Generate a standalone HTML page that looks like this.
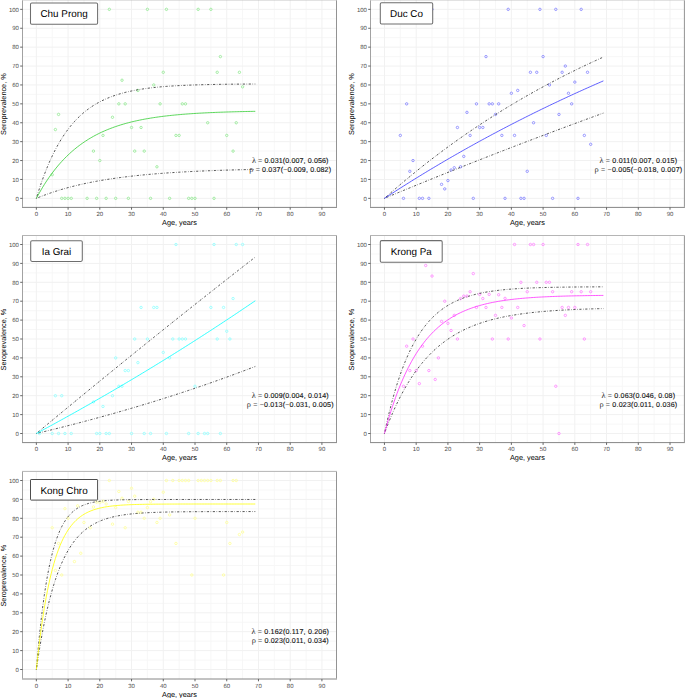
<!DOCTYPE html><html><head><meta charset="utf-8"><style>html,body{margin:0;padding:0;background:#fff;overflow:hidden}svg{display:block}text{font-family:"Liberation Sans",sans-serif;text-rendering:geometricPrecision}</style></head><body>
<svg width="685" height="698" viewBox="0 0 685 698">
<rect width="685" height="698" fill="#fff"/>
<clipPath id="c0"><rect x="22.5" y="-0.12" width="314" height="207.52"/></clipPath>
<path d="M22.5,188.9H336.5M22.5,170H336.5M22.5,151.1H336.5M22.5,132.2H336.5M22.5,113.3H336.5M22.5,94.4H336.5M22.5,75.5H336.5M22.5,56.6H336.5M22.5,37.7H336.5M22.5,18.8H336.5M52.22,-0.12V207.4M83.94,-0.12V207.4M115.68,-0.12V207.4M147.41,-0.12V207.4M179.13,-0.12V207.4M210.87,-0.12V207.4M242.59,-0.12V207.4M274.32,-0.12V207.4M306.06,-0.12V207.4" stroke="#f6f6f6" stroke-width="0.9" fill="none"/>
<path d="M22.5,198.35H336.5M22.5,179.45H336.5M22.5,160.55H336.5M22.5,141.65H336.5M22.5,122.75H336.5M22.5,103.85H336.5M22.5,84.95H336.5M22.5,66.05H336.5M22.5,47.15H336.5M22.5,28.25H336.5M22.5,9.35H336.5M36.35,-0.12V207.4M68.08,-0.12V207.4M99.81,-0.12V207.4M131.54,-0.12V207.4M163.27,-0.12V207.4M195,-0.12V207.4M226.73,-0.12V207.4M258.46,-0.12V207.4M290.19,-0.12V207.4M321.92,-0.12V207.4" stroke="#f1f1f1" stroke-width="1" fill="none"/>
<g clip-path="url(#c0)" fill="none" stroke="#90e890" stroke-width="0.8">
<circle cx="109.33" cy="9.35" r="1.2"/>
<circle cx="147.41" cy="9.35" r="1.2"/>
<circle cx="166.44" cy="9.35" r="1.2"/>
<circle cx="198.17" cy="9.35" r="1.2"/>
<circle cx="210.87" cy="9.35" r="1.2"/>
<circle cx="220.38" cy="56.6" r="1.2"/>
<circle cx="163.27" cy="72.29" r="1.2"/>
<circle cx="217.21" cy="72.29" r="1.2"/>
<circle cx="239.42" cy="72.29" r="1.2"/>
<circle cx="122.02" cy="80.22" r="1.2"/>
<circle cx="153.75" cy="84.95" r="1.2"/>
<circle cx="242.59" cy="86.84" r="1.2"/>
<circle cx="137.89" cy="90.43" r="1.2"/>
<circle cx="118.85" cy="103.85" r="1.2"/>
<circle cx="125.19" cy="103.85" r="1.2"/>
<circle cx="160.1" cy="103.85" r="1.2"/>
<circle cx="182.31" cy="103.85" r="1.2"/>
<circle cx="185.48" cy="103.85" r="1.2"/>
<circle cx="58.56" cy="114.43" r="1.2"/>
<circle cx="112.5" cy="117.27" r="1.2"/>
<circle cx="207.69" cy="122.75" r="1.2"/>
<circle cx="236.25" cy="122.75" r="1.2"/>
<circle cx="131.54" cy="127.47" r="1.2"/>
<circle cx="141.06" cy="127.47" r="1.2"/>
<circle cx="55.39" cy="129.55" r="1.2"/>
<circle cx="102.98" cy="135.41" r="1.2"/>
<circle cx="175.96" cy="135.41" r="1.2"/>
<circle cx="179.13" cy="135.41" r="1.2"/>
<circle cx="226.73" cy="135.41" r="1.2"/>
<circle cx="93.46" cy="151.1" r="1.2"/>
<circle cx="134.71" cy="151.1" r="1.2"/>
<circle cx="144.23" cy="151.1" r="1.2"/>
<circle cx="233.08" cy="151.1" r="1.2"/>
<circle cx="99.81" cy="160.55" r="1.2"/>
<circle cx="156.92" cy="166.79" r="1.2"/>
<circle cx="52.22" cy="174.72" r="1.2"/>
<circle cx="61.73" cy="198.35" r="1.2"/>
<circle cx="64.91" cy="198.35" r="1.2"/>
<circle cx="68.08" cy="198.35" r="1.2"/>
<circle cx="71.25" cy="198.35" r="1.2"/>
<circle cx="87.12" cy="198.35" r="1.2"/>
<circle cx="96.64" cy="198.35" r="1.2"/>
<circle cx="106.16" cy="198.35" r="1.2"/>
<circle cx="115.68" cy="198.35" r="1.2"/>
<circle cx="128.37" cy="198.35" r="1.2"/>
<circle cx="150.58" cy="198.35" r="1.2"/>
<circle cx="169.62" cy="198.35" r="1.2"/>
<circle cx="188.65" cy="198.35" r="1.2"/>
<circle cx="191.83" cy="198.35" r="1.2"/>
<circle cx="195" cy="198.35" r="1.2"/>
<circle cx="214.04" cy="198.35" r="1.2"/>
</g>
<g clip-path="url(#c0)" fill="none">
<path d="M36.35,198.35 L37.94,193.18 L39.52,188.24 L41.11,183.53 L42.7,179.02 L44.28,174.72 L45.87,170.62 L47.46,166.7 L49.04,162.96 L50.63,159.38 L52.22,155.97 L53.8,152.71 L55.39,149.6 L56.97,146.63 L58.56,143.79 L60.15,141.09 L61.73,138.5 L63.32,136.03 L64.91,133.67 L66.49,131.42 L68.08,129.27 L69.67,127.22 L71.25,125.26 L72.84,123.39 L74.43,121.6 L76.01,119.89 L77.6,118.26 L79.19,116.71 L80.77,115.22 L82.36,113.8 L83.94,112.45 L85.53,111.16 L87.12,109.92 L88.7,108.74 L90.29,107.62 L91.88,106.54 L93.46,105.51 L95.05,104.53 L96.64,103.6 L98.22,102.7 L99.81,101.85 L101.4,101.04 L102.98,100.26 L104.57,99.52 L106.16,98.81 L107.74,98.13 L109.33,97.48 L110.92,96.86 L112.5,96.28 L114.09,95.71 L115.68,95.17 L117.26,94.66 L118.85,94.17 L120.43,93.7 L122.02,93.26 L123.61,92.83 L125.19,92.42 L126.78,92.03 L128.37,91.66 L129.95,91.31 L131.54,90.97 L133.13,90.64 L134.71,90.34 L136.3,90.04 L137.89,89.76 L139.47,89.49 L141.06,89.23 L142.65,88.99 L144.23,88.75 L145.82,88.53 L147.41,88.32 L148.99,88.11 L150.58,87.92 L152.16,87.73 L153.75,87.56 L155.34,87.39 L156.92,87.22 L158.51,87.07 L160.1,86.92 L161.68,86.78 L163.27,86.65 L164.86,86.52 L166.44,86.4 L168.03,86.28 L169.62,86.17 L171.2,86.06 L172.79,85.96 L174.38,85.86 L175.96,85.77 L177.55,85.68 L179.13,85.6 L180.72,85.52 L182.31,85.44 L183.89,85.36 L185.48,85.29 L187.07,85.23 L188.65,85.16 L190.24,85.1 L191.83,85.04 L193.41,84.99 L195,84.93 L196.59,84.88 L198.17,84.83 L199.76,84.79 L201.35,84.74 L202.93,84.7 L204.52,84.66 L206.11,84.62 L207.69,84.58 L209.28,84.55 L210.87,84.52 L212.45,84.48 L214.04,84.45 L215.62,84.42 L217.21,84.4 L218.8,84.37 L220.38,84.34 L221.97,84.32 L223.56,84.3 L225.14,84.27 L226.73,84.25 L228.32,84.23 L229.9,84.21 L231.49,84.19 L233.08,84.18 L234.66,84.16 L236.25,84.14 L237.84,84.13 L239.42,84.11 L241.01,84.1 L242.59,84.09 L244.18,84.07 L245.77,84.06 L247.35,84.05 L248.94,84.04 L250.53,84.03 L252.11,84.02 L253.7,84.01 L255.29,84" stroke="#111" stroke-width="0.72" stroke-dasharray="0.55 1.6 2.2 1.6"/>
<path d="M36.35,198.35 L37.94,197.7 L39.52,197.06 L41.11,196.43 L42.7,195.82 L44.28,195.22 L45.87,194.63 L47.46,194.05 L49.04,193.49 L50.63,192.94 L52.22,192.4 L53.8,191.88 L55.39,191.36 L56.97,190.86 L58.56,190.36 L60.15,189.88 L61.73,189.41 L63.32,188.95 L64.91,188.49 L66.49,188.05 L68.08,187.62 L69.67,187.19 L71.25,186.78 L72.84,186.37 L74.43,185.97 L76.01,185.59 L77.6,185.21 L79.19,184.83 L80.77,184.47 L82.36,184.11 L83.94,183.76 L85.53,183.42 L87.12,183.09 L88.7,182.76 L90.29,182.44 L91.88,182.13 L93.46,181.82 L95.05,181.52 L96.64,181.23 L98.22,180.94 L99.81,180.66 L101.4,180.39 L102.98,180.12 L104.57,179.86 L106.16,179.6 L107.74,179.35 L109.33,179.1 L110.92,178.86 L112.5,178.62 L114.09,178.39 L115.68,178.17 L117.26,177.95 L118.85,177.73 L120.43,177.52 L122.02,177.31 L123.61,177.11 L125.19,176.91 L126.78,176.72 L128.37,176.53 L129.95,176.34 L131.54,176.16 L133.13,175.98 L134.71,175.81 L136.3,175.63 L137.89,175.47 L139.47,175.3 L141.06,175.15 L142.65,174.99 L144.23,174.84 L145.82,174.69 L147.41,174.54 L148.99,174.4 L150.58,174.26 L152.16,174.12 L153.75,173.99 L155.34,173.85 L156.92,173.73 L158.51,173.6 L160.1,173.48 L161.68,173.36 L163.27,173.24 L164.86,173.12 L166.44,173.01 L168.03,172.9 L169.62,172.79 L171.2,172.69 L172.79,172.58 L174.38,172.48 L175.96,172.38 L177.55,172.29 L179.13,172.19 L180.72,172.1 L182.31,172.01 L183.89,171.92 L185.48,171.83 L187.07,171.75 L188.65,171.66 L190.24,171.58 L191.83,171.5 L193.41,171.42 L195,171.35 L196.59,171.27 L198.17,171.2 L199.76,171.13 L201.35,171.06 L202.93,170.99 L204.52,170.92 L206.11,170.86 L207.69,170.79 L209.28,170.73 L210.87,170.67 L212.45,170.61 L214.04,170.55 L215.62,170.49 L217.21,170.43 L218.8,170.38 L220.38,170.33 L221.97,170.27 L223.56,170.22 L225.14,170.17 L226.73,170.12 L228.32,170.07 L229.9,170.03 L231.49,169.98 L233.08,169.93 L234.66,169.89 L236.25,169.85 L237.84,169.8 L239.42,169.76 L241.01,169.72 L242.59,169.68 L244.18,169.64 L245.77,169.6 L247.35,169.57 L248.94,169.53 L250.53,169.49 L252.11,169.46 L253.7,169.43 L255.29,169.39" stroke="#111" stroke-width="0.72" stroke-dasharray="0.55 1.6 2.2 1.6"/>
<path d="M36.35,198.35 L37.94,195.41 L39.52,192.58 L41.11,189.83 L42.7,187.18 L44.28,184.62 L45.87,182.14 L47.46,179.75 L49.04,177.43 L50.63,175.2 L52.22,173.03 L53.8,170.95 L55.39,168.93 L56.97,166.97 L58.56,165.09 L60.15,163.26 L61.73,161.5 L63.32,159.79 L64.91,158.15 L66.49,156.56 L68.08,155.02 L69.67,153.53 L71.25,152.09 L72.84,150.7 L74.43,149.36 L76.01,148.06 L77.6,146.81 L79.19,145.59 L80.77,144.42 L82.36,143.29 L83.94,142.19 L85.53,141.13 L87.12,140.11 L88.7,139.12 L90.29,138.16 L91.88,137.24 L93.46,136.35 L95.05,135.48 L96.64,134.65 L98.22,133.84 L99.81,133.06 L101.4,132.31 L102.98,131.58 L104.57,130.88 L106.16,130.2 L107.74,129.54 L109.33,128.9 L110.92,128.29 L112.5,127.69 L114.09,127.12 L115.68,126.57 L117.26,126.03 L118.85,125.51 L120.43,125.01 L122.02,124.53 L123.61,124.06 L125.19,123.6 L126.78,123.17 L128.37,122.74 L129.95,122.34 L131.54,121.94 L133.13,121.56 L134.71,121.19 L136.3,120.83 L137.89,120.49 L139.47,120.16 L141.06,119.83 L142.65,119.52 L144.23,119.22 L145.82,118.93 L147.41,118.65 L148.99,118.38 L150.58,118.11 L152.16,117.86 L153.75,117.62 L155.34,117.38 L156.92,117.15 L158.51,116.93 L160.1,116.71 L161.68,116.51 L163.27,116.31 L164.86,116.11 L166.44,115.93 L168.03,115.75 L169.62,115.57 L171.2,115.4 L172.79,115.24 L174.38,115.08 L175.96,114.93 L177.55,114.78 L179.13,114.64 L180.72,114.5 L182.31,114.37 L183.89,114.24 L185.48,114.12 L187.07,113.99 L188.65,113.88 L190.24,113.77 L191.83,113.66 L193.41,113.55 L195,113.45 L196.59,113.35 L198.17,113.26 L199.76,113.17 L201.35,113.08 L202.93,112.99 L204.52,112.91 L206.11,112.83 L207.69,112.75 L209.28,112.68 L210.87,112.61 L212.45,112.54 L214.04,112.47 L215.62,112.4 L217.21,112.34 L218.8,112.28 L220.38,112.22 L221.97,112.17 L223.56,112.11 L225.14,112.06 L226.73,112.01 L228.32,111.96 L229.9,111.91 L231.49,111.86 L233.08,111.82 L234.66,111.77 L236.25,111.73 L237.84,111.69 L239.42,111.65 L241.01,111.61 L242.59,111.58 L244.18,111.54 L245.77,111.51 L247.35,111.48 L248.94,111.44 L250.53,111.41 L252.11,111.38 L253.7,111.35 L255.29,111.33" stroke="#32cd32" stroke-width="0.8"/>
</g>
<path d="M22,-0.12H337" stroke="#b5b5b5" stroke-width="1" fill="none"/>
<path d="M22.5,0.38V206.9" stroke="#a2a2a2" stroke-width="1" fill="none"/>
<path d="M336.5,0.38V206.9" stroke="#939393" stroke-width="1" fill="none"/>
<path d="M22,207.4H337" stroke="#868686" stroke-width="1" fill="none"/>
<path d="M20.2,198.35H22.5M20.2,179.45H22.5M20.2,160.55H22.5M20.2,141.65H22.5M20.2,122.75H22.5M20.2,103.85H22.5M20.2,84.95H22.5M20.2,66.05H22.5M20.2,47.15H22.5M20.2,28.25H22.5M20.2,9.35H22.5M36.35,207.4V209.7M68.08,207.4V209.7M99.81,207.4V209.7M131.54,207.4V209.7M163.27,207.4V209.7M195,207.4V209.7M226.73,207.4V209.7M258.46,207.4V209.7M290.19,207.4V209.7M321.92,207.4V209.7" stroke="#555" stroke-width="0.9" fill="none"/>
<g font-size="6.0" fill="#4d4d4d">
<text x="18.9" y="200.55" text-anchor="end">0</text>
<text x="18.9" y="181.65" text-anchor="end">10</text>
<text x="18.9" y="162.75" text-anchor="end">20</text>
<text x="18.9" y="143.85" text-anchor="end">30</text>
<text x="18.9" y="124.95" text-anchor="end">40</text>
<text x="18.9" y="106.05" text-anchor="end">50</text>
<text x="18.9" y="87.15" text-anchor="end">60</text>
<text x="18.9" y="68.25" text-anchor="end">70</text>
<text x="18.9" y="49.35" text-anchor="end">80</text>
<text x="18.9" y="30.45" text-anchor="end">90</text>
<text x="18.9" y="11.55" text-anchor="end">100</text>
<text x="36.35" y="216" text-anchor="middle">0</text>
<text x="68.08" y="216" text-anchor="middle">10</text>
<text x="99.81" y="216" text-anchor="middle">20</text>
<text x="131.54" y="216" text-anchor="middle">30</text>
<text x="163.27" y="216" text-anchor="middle">40</text>
<text x="195" y="216" text-anchor="middle">50</text>
<text x="226.73" y="216" text-anchor="middle">60</text>
<text x="258.46" y="216" text-anchor="middle">70</text>
<text x="290.19" y="216" text-anchor="middle">80</text>
<text x="321.92" y="216" text-anchor="middle">90</text>
</g>
<text x="179.5" y="225.2" font-size="7.3" fill="#000" text-anchor="middle">Age, years</text>
<text transform="translate(5.8,104.14) rotate(-90)" font-size="7.3" fill="#000" text-anchor="middle">Seroprevalence, %</text>
<rect x="30.5" y="2.9" width="67.1" height="21.3" rx="1.3" fill="#fff" stroke="#6e6e6e" stroke-width="1.05"/>
<text x="64.05" y="17.25" font-size="9.9" fill="#000" text-anchor="middle">Chu Prong</text>
<text x="290.19" y="162.85" font-size="7.1" fill="#111" stroke="#111" stroke-width="0.12" text-anchor="middle" textLength="76.6" lengthAdjust="spacing"><tspan font-family="Liberation Serif" font-size="8.3" fill="#333" stroke="none">λ</tspan> <tspan fill="#555" stroke="none">=</tspan> 0.031(0.007, 0.056)</text>
<text x="290.19" y="171.95" font-size="7.1" fill="#111" stroke="#111" stroke-width="0.12" text-anchor="middle" textLength="81.8" lengthAdjust="spacing"><tspan font-family="Liberation Serif" font-size="8.3" fill="#333" stroke="none">ρ</tspan> <tspan fill="#555" stroke="none">=</tspan> 0.037(<tspan fill="#555" stroke="none">−</tspan>0.009, 0.082)</text>
<clipPath id="c1"><rect x="370.5" y="-0.12" width="313.9" height="207.52"/></clipPath>
<path d="M370.5,188.9H684.4M370.5,170H684.4M370.5,151.1H684.4M370.5,132.2H684.4M370.5,113.3H684.4M370.5,94.4H684.4M370.5,75.5H684.4M370.5,56.6H684.4M370.5,37.7H684.4M370.5,18.8H684.4M400.31,-0.12V207.4M432.04,-0.12V207.4M463.77,-0.12V207.4M495.5,-0.12V207.4M527.24,-0.12V207.4M558.97,-0.12V207.4M590.69,-0.12V207.4M622.42,-0.12V207.4M654.15,-0.12V207.4" stroke="#f6f6f6" stroke-width="0.9" fill="none"/>
<path d="M370.5,198.35H684.4M370.5,179.45H684.4M370.5,160.55H684.4M370.5,141.65H684.4M370.5,122.75H684.4M370.5,103.85H684.4M370.5,84.95H684.4M370.5,66.05H684.4M370.5,47.15H684.4M370.5,28.25H684.4M370.5,9.35H684.4M384.45,-0.12V207.4M416.18,-0.12V207.4M447.91,-0.12V207.4M479.64,-0.12V207.4M511.37,-0.12V207.4M543.1,-0.12V207.4M574.83,-0.12V207.4M606.56,-0.12V207.4M638.29,-0.12V207.4M670.02,-0.12V207.4" stroke="#f1f1f1" stroke-width="1" fill="none"/>
<g clip-path="url(#c1)" fill="none" stroke="#8080ff" stroke-width="0.8">
<circle cx="432.04" cy="9.35" r="1.2"/>
<circle cx="508.2" cy="9.35" r="1.2"/>
<circle cx="539.93" cy="9.35" r="1.2"/>
<circle cx="555.79" cy="9.35" r="1.2"/>
<circle cx="581.18" cy="9.35" r="1.2"/>
<circle cx="485.99" cy="56.6" r="1.2"/>
<circle cx="543.1" cy="56.6" r="1.2"/>
<circle cx="565.31" cy="66.05" r="1.2"/>
<circle cx="530.41" cy="72.29" r="1.2"/>
<circle cx="536.75" cy="72.29" r="1.2"/>
<circle cx="562.14" cy="72.29" r="1.2"/>
<circle cx="587.52" cy="72.29" r="1.2"/>
<circle cx="574.83" cy="82.11" r="1.2"/>
<circle cx="549.45" cy="84.95" r="1.2"/>
<circle cx="517.72" cy="90.43" r="1.2"/>
<circle cx="511.37" cy="93.27" r="1.2"/>
<circle cx="568.48" cy="93.27" r="1.2"/>
<circle cx="406.66" cy="103.85" r="1.2"/>
<circle cx="476.47" cy="103.85" r="1.2"/>
<circle cx="489.16" cy="103.85" r="1.2"/>
<circle cx="492.33" cy="103.85" r="1.2"/>
<circle cx="498.68" cy="103.85" r="1.2"/>
<circle cx="571.66" cy="103.85" r="1.2"/>
<circle cx="466.95" cy="112.36" r="1.2"/>
<circle cx="495.5" cy="114.43" r="1.2"/>
<circle cx="558.97" cy="114.43" r="1.2"/>
<circle cx="533.58" cy="122.75" r="1.2"/>
<circle cx="457.43" cy="127.47" r="1.2"/>
<circle cx="479.64" cy="127.47" r="1.2"/>
<circle cx="482.81" cy="127.47" r="1.2"/>
<circle cx="400.31" cy="135.41" r="1.2"/>
<circle cx="470.12" cy="135.41" r="1.2"/>
<circle cx="501.85" cy="135.41" r="1.2"/>
<circle cx="514.54" cy="135.41" r="1.2"/>
<circle cx="546.27" cy="135.41" r="1.2"/>
<circle cx="584.35" cy="135.41" r="1.2"/>
<circle cx="590.69" cy="144.3" r="1.2"/>
<circle cx="463.77" cy="156.39" r="1.2"/>
<circle cx="413.01" cy="160.55" r="1.2"/>
<circle cx="460.6" cy="166.79" r="1.2"/>
<circle cx="454.26" cy="167.73" r="1.2"/>
<circle cx="451.08" cy="170" r="1.2"/>
<circle cx="409.83" cy="171.32" r="1.2"/>
<circle cx="527.24" cy="171.32" r="1.2"/>
<circle cx="447.91" cy="180.58" r="1.2"/>
<circle cx="441.56" cy="184.36" r="1.2"/>
<circle cx="444.74" cy="188.9" r="1.2"/>
<circle cx="403.49" cy="198.35" r="1.2"/>
<circle cx="419.35" cy="198.35" r="1.2"/>
<circle cx="422.53" cy="198.35" r="1.2"/>
<circle cx="428.87" cy="198.35" r="1.2"/>
<circle cx="473.29" cy="198.35" r="1.2"/>
<circle cx="505.02" cy="198.35" r="1.2"/>
<circle cx="520.89" cy="198.35" r="1.2"/>
<circle cx="524.06" cy="198.35" r="1.2"/>
<circle cx="552.62" cy="198.35" r="1.2"/>
<circle cx="578" cy="198.35" r="1.2"/>
</g>
<g clip-path="url(#c1)" fill="none">
<path d="M384.45,198.35 L386.04,196.94 L387.62,195.53 L389.21,194.13 L390.8,192.74 L392.38,191.35 L393.97,189.97 L395.56,188.6 L397.14,187.23 L398.73,185.88 L400.31,184.52 L401.9,183.18 L403.49,181.84 L405.07,180.51 L406.66,179.18 L408.25,177.87 L409.83,176.55 L411.42,175.25 L413.01,173.95 L414.59,172.66 L416.18,171.37 L417.77,170.09 L419.35,168.82 L420.94,167.55 L422.53,166.29 L424.11,165.04 L425.7,163.79 L427.29,162.55 L428.87,161.31 L430.46,160.08 L432.04,158.86 L433.63,157.64 L435.22,156.43 L436.8,155.23 L438.39,154.03 L439.98,152.84 L441.56,151.65 L443.15,150.47 L444.74,149.29 L446.32,148.12 L447.91,146.96 L449.5,145.8 L451.08,144.65 L452.67,143.5 L454.26,142.36 L455.84,141.23 L457.43,140.1 L459.02,138.98 L460.6,137.86 L462.19,136.75 L463.77,135.64 L465.36,134.54 L466.95,133.44 L468.53,132.35 L470.12,131.27 L471.71,130.19 L473.29,129.11 L474.88,128.05 L476.47,126.98 L478.05,125.92 L479.64,124.87 L481.23,123.82 L482.81,122.78 L484.4,121.75 L485.99,120.71 L487.57,119.69 L489.16,118.66 L490.75,117.65 L492.33,116.64 L493.92,115.63 L495.5,114.63 L497.09,113.63 L498.68,112.64 L500.26,111.65 L501.85,110.67 L503.44,109.7 L505.02,108.72 L506.61,107.76 L508.2,106.8 L509.78,105.84 L511.37,104.89 L512.96,103.94 L514.54,102.99 L516.13,102.06 L517.72,101.12 L519.3,100.19 L520.89,99.27 L522.48,98.35 L524.06,97.43 L525.65,96.52 L527.24,95.62 L528.82,94.72 L530.41,93.82 L531.99,92.93 L533.58,92.04 L535.17,91.15 L536.75,90.28 L538.34,89.4 L539.93,88.53 L541.51,87.66 L543.1,86.8 L544.69,85.94 L546.27,85.09 L547.86,84.24 L549.45,83.4 L551.03,82.56 L552.62,81.72 L554.21,80.89 L555.79,80.06 L557.38,79.24 L558.97,78.42 L560.55,77.6 L562.14,76.79 L563.72,75.98 L565.31,75.18 L566.9,74.38 L568.48,73.58 L570.07,72.79 L571.66,72 L573.24,71.22 L574.83,70.44 L576.42,69.66 L578,68.89 L579.59,68.12 L581.18,67.36 L582.76,66.6 L584.35,65.84 L585.94,65.09 L587.52,64.34 L589.11,63.59 L590.69,62.85 L592.28,62.11 L593.87,61.38 L595.45,60.65 L597.04,59.92 L598.63,59.2 L600.21,58.48 L601.8,57.76 L603.39,57.05" stroke="#111" stroke-width="0.72" stroke-dasharray="0.55 1.6 2.2 1.6"/>
<path d="M384.45,198.35 L386.04,197.69 L387.62,197.03 L389.21,196.37 L390.8,195.71 L392.38,195.05 L393.97,194.39 L395.56,193.74 L397.14,193.08 L398.73,192.42 L400.31,191.77 L401.9,191.11 L403.49,190.46 L405.07,189.81 L406.66,189.15 L408.25,188.5 L409.83,187.85 L411.42,187.2 L413.01,186.55 L414.59,185.9 L416.18,185.25 L417.77,184.6 L419.35,183.96 L420.94,183.31 L422.53,182.66 L424.11,182.02 L425.7,181.37 L427.29,180.73 L428.87,180.08 L430.46,179.44 L432.04,178.8 L433.63,178.16 L435.22,177.52 L436.8,176.88 L438.39,176.24 L439.98,175.6 L441.56,174.96 L443.15,174.32 L444.74,173.68 L446.32,173.05 L447.91,172.41 L449.5,171.78 L451.08,171.14 L452.67,170.51 L454.26,169.88 L455.84,169.24 L457.43,168.61 L459.02,167.98 L460.6,167.35 L462.19,166.72 L463.77,166.09 L465.36,165.46 L466.95,164.83 L468.53,164.2 L470.12,163.58 L471.71,162.95 L473.29,162.32 L474.88,161.7 L476.47,161.07 L478.05,160.45 L479.64,159.83 L481.23,159.2 L482.81,158.58 L484.4,157.96 L485.99,157.34 L487.57,156.72 L489.16,156.1 L490.75,155.48 L492.33,154.86 L493.92,154.25 L495.5,153.63 L497.09,153.01 L498.68,152.4 L500.26,151.78 L501.85,151.17 L503.44,150.55 L505.02,149.94 L506.61,149.33 L508.2,148.71 L509.78,148.1 L511.37,147.49 L512.96,146.88 L514.54,146.27 L516.13,145.66 L517.72,145.05 L519.3,144.45 L520.89,143.84 L522.48,143.23 L524.06,142.63 L525.65,142.02 L527.24,141.42 L528.82,140.81 L530.41,140.21 L531.99,139.6 L533.58,139 L535.17,138.4 L536.75,137.8 L538.34,137.2 L539.93,136.6 L541.51,136 L543.1,135.4 L544.69,134.8 L546.27,134.2 L547.86,133.61 L549.45,133.01 L551.03,132.41 L552.62,131.82 L554.21,131.22 L555.79,130.63 L557.38,130.04 L558.97,129.44 L560.55,128.85 L562.14,128.26 L563.72,127.67 L565.31,127.08 L566.9,126.49 L568.48,125.9 L570.07,125.31 L571.66,124.72 L573.24,124.13 L574.83,123.55 L576.42,122.96 L578,122.38 L579.59,121.79 L581.18,121.21 L582.76,120.62 L584.35,120.04 L585.94,119.46 L587.52,118.87 L589.11,118.29 L590.69,117.71 L592.28,117.13 L593.87,116.55 L595.45,115.97 L597.04,115.39 L598.63,114.81 L600.21,114.24 L601.8,113.66 L603.39,113.08" stroke="#111" stroke-width="0.72" stroke-dasharray="0.55 1.6 2.2 1.6"/>
<path d="M384.45,198.35 L386.04,197.31 L387.62,196.28 L389.21,195.25 L390.8,194.22 L392.38,193.19 L393.97,192.17 L395.56,191.15 L397.14,190.13 L398.73,189.12 L400.31,188.11 L401.9,187.1 L403.49,186.1 L405.07,185.1 L406.66,184.1 L408.25,183.1 L409.83,182.11 L411.42,181.12 L413.01,180.14 L414.59,179.15 L416.18,178.17 L417.77,177.19 L419.35,176.22 L420.94,175.25 L422.53,174.28 L424.11,173.31 L425.7,172.35 L427.29,171.39 L428.87,170.43 L430.46,169.48 L432.04,168.53 L433.63,167.58 L435.22,166.63 L436.8,165.69 L438.39,164.75 L439.98,163.81 L441.56,162.88 L443.15,161.95 L444.74,161.02 L446.32,160.09 L447.91,159.17 L449.5,158.25 L451.08,157.33 L452.67,156.41 L454.26,155.5 L455.84,154.59 L457.43,153.69 L459.02,152.78 L460.6,151.88 L462.19,150.98 L463.77,150.09 L465.36,149.19 L466.95,148.3 L468.53,147.41 L470.12,146.53 L471.71,145.65 L473.29,144.77 L474.88,143.89 L476.47,143.01 L478.05,142.14 L479.64,141.27 L481.23,140.4 L482.81,139.54 L484.4,138.68 L485.99,137.82 L487.57,136.96 L489.16,136.11 L490.75,135.26 L492.33,134.41 L493.92,133.56 L495.5,132.72 L497.09,131.88 L498.68,131.04 L500.26,130.2 L501.85,129.37 L503.44,128.54 L505.02,127.71 L506.61,126.88 L508.2,126.06 L509.78,125.24 L511.37,124.42 L512.96,123.6 L514.54,122.79 L516.13,121.97 L517.72,121.17 L519.3,120.36 L520.89,119.55 L522.48,118.75 L524.06,117.95 L525.65,117.16 L527.24,116.36 L528.82,115.57 L530.41,114.78 L531.99,113.99 L533.58,113.21 L535.17,112.42 L536.75,111.64 L538.34,110.86 L539.93,110.09 L541.51,109.31 L543.1,108.54 L544.69,107.77 L546.27,107.01 L547.86,106.24 L549.45,105.48 L551.03,104.72 L552.62,103.96 L554.21,103.21 L555.79,102.46 L557.38,101.71 L558.97,100.96 L560.55,100.21 L562.14,99.47 L563.72,98.73 L565.31,97.99 L566.9,97.25 L568.48,96.51 L570.07,95.78 L571.66,95.05 L573.24,94.32 L574.83,93.59 L576.42,92.87 L578,92.15 L579.59,91.43 L581.18,90.71 L582.76,90 L584.35,89.28 L585.94,88.57 L587.52,87.86 L589.11,87.16 L590.69,86.45 L592.28,85.75 L593.87,85.05 L595.45,84.35 L597.04,83.65 L598.63,82.96 L600.21,82.27 L601.8,81.57 L603.39,80.89" stroke="#3535ff" stroke-width="0.8"/>
</g>
<path d="M370,-0.12H684.9" stroke="#b5b5b5" stroke-width="1" fill="none"/>
<path d="M370.5,0.38V206.9" stroke="#a2a2a2" stroke-width="1" fill="none"/>
<path d="M684.4,0.38V206.9" stroke="#939393" stroke-width="1" fill="none"/>
<path d="M370,207.4H684.9" stroke="#868686" stroke-width="1" fill="none"/>
<path d="M368.2,198.35H370.5M368.2,179.45H370.5M368.2,160.55H370.5M368.2,141.65H370.5M368.2,122.75H370.5M368.2,103.85H370.5M368.2,84.95H370.5M368.2,66.05H370.5M368.2,47.15H370.5M368.2,28.25H370.5M368.2,9.35H370.5M384.45,207.4V209.7M416.18,207.4V209.7M447.91,207.4V209.7M479.64,207.4V209.7M511.37,207.4V209.7M543.1,207.4V209.7M574.83,207.4V209.7M606.56,207.4V209.7M638.29,207.4V209.7M670.02,207.4V209.7" stroke="#555" stroke-width="0.9" fill="none"/>
<g font-size="6.0" fill="#4d4d4d">
<text x="366.9" y="200.55" text-anchor="end">0</text>
<text x="366.9" y="181.65" text-anchor="end">10</text>
<text x="366.9" y="162.75" text-anchor="end">20</text>
<text x="366.9" y="143.85" text-anchor="end">30</text>
<text x="366.9" y="124.95" text-anchor="end">40</text>
<text x="366.9" y="106.05" text-anchor="end">50</text>
<text x="366.9" y="87.15" text-anchor="end">60</text>
<text x="366.9" y="68.25" text-anchor="end">70</text>
<text x="366.9" y="49.35" text-anchor="end">80</text>
<text x="366.9" y="30.45" text-anchor="end">90</text>
<text x="366.9" y="11.55" text-anchor="end">100</text>
<text x="384.45" y="216" text-anchor="middle">0</text>
<text x="416.18" y="216" text-anchor="middle">10</text>
<text x="447.91" y="216" text-anchor="middle">20</text>
<text x="479.64" y="216" text-anchor="middle">30</text>
<text x="511.37" y="216" text-anchor="middle">40</text>
<text x="543.1" y="216" text-anchor="middle">50</text>
<text x="574.83" y="216" text-anchor="middle">60</text>
<text x="606.56" y="216" text-anchor="middle">70</text>
<text x="638.29" y="216" text-anchor="middle">80</text>
<text x="670.02" y="216" text-anchor="middle">90</text>
</g>
<text x="527.45" y="225.2" font-size="7.3" fill="#000" text-anchor="middle">Age, years</text>
<text transform="translate(353.8,104.14) rotate(-90)" font-size="7.3" fill="#000" text-anchor="middle">Seroprevalence, %</text>
<rect x="380.3" y="2.8" width="52.4" height="21.3" rx="1.3" fill="#fff" stroke="#6e6e6e" stroke-width="1.05"/>
<text x="406.5" y="17.15" font-size="9.9" fill="#000" text-anchor="middle">Duc Co</text>
<text x="638.29" y="162.85" font-size="7.1" fill="#111" stroke="#111" stroke-width="0.12" text-anchor="middle" textLength="77.6" lengthAdjust="spacing"><tspan font-family="Liberation Serif" font-size="8.3" fill="#333" stroke="none">λ</tspan> <tspan fill="#555" stroke="none">=</tspan> 0.011(0.007, 0.015)</text>
<text x="638.29" y="171.95" font-size="7.1" fill="#111" stroke="#111" stroke-width="0.12" text-anchor="middle" textLength="87.8" lengthAdjust="spacing"><tspan font-family="Liberation Serif" font-size="8.3" fill="#333" stroke="none">ρ</tspan> <tspan fill="#555" stroke="none">=</tspan> <tspan fill="#555" stroke="none">−</tspan>0.005(<tspan fill="#555" stroke="none">−</tspan>0.018, 0.007)</text>
<clipPath id="c2"><rect x="22.5" y="235.5" width="314" height="207.1"/></clipPath>
<path d="M22.5,424.05H336.5M22.5,405.15H336.5M22.5,386.25H336.5M22.5,367.35H336.5M22.5,348.45H336.5M22.5,329.55H336.5M22.5,310.65H336.5M22.5,291.75H336.5M22.5,272.85H336.5M22.5,253.95H336.5M52.22,235.5V442.6M83.94,235.5V442.6M115.68,235.5V442.6M147.41,235.5V442.6M179.13,235.5V442.6M210.87,235.5V442.6M242.59,235.5V442.6M274.32,235.5V442.6M306.06,235.5V442.6" stroke="#f6f6f6" stroke-width="0.9" fill="none"/>
<path d="M22.5,433.5H336.5M22.5,414.6H336.5M22.5,395.7H336.5M22.5,376.8H336.5M22.5,357.9H336.5M22.5,339H336.5M22.5,320.1H336.5M22.5,301.2H336.5M22.5,282.3H336.5M22.5,263.4H336.5M22.5,244.5H336.5M36.35,235.5V442.6M68.08,235.5V442.6M99.81,235.5V442.6M131.54,235.5V442.6M163.27,235.5V442.6M195,235.5V442.6M226.73,235.5V442.6M258.46,235.5V442.6M290.19,235.5V442.6M321.92,235.5V442.6" stroke="#f1f1f1" stroke-width="1" fill="none"/>
<g clip-path="url(#c2)" fill="none" stroke="#8cffff" stroke-width="0.8">
<circle cx="175.96" cy="244.5" r="1.2"/>
<circle cx="214.04" cy="244.5" r="1.2"/>
<circle cx="236.25" cy="244.5" r="1.2"/>
<circle cx="242.59" cy="244.5" r="1.2"/>
<circle cx="233.08" cy="298.55" r="1.2"/>
<circle cx="141.06" cy="307.44" r="1.2"/>
<circle cx="153.75" cy="307.44" r="1.2"/>
<circle cx="156.92" cy="307.44" r="1.2"/>
<circle cx="210.87" cy="307.44" r="1.2"/>
<circle cx="223.56" cy="307.44" r="1.2"/>
<circle cx="226.73" cy="331.25" r="1.2"/>
<circle cx="134.71" cy="339" r="1.2"/>
<circle cx="147.41" cy="339" r="1.2"/>
<circle cx="172.79" cy="339" r="1.2"/>
<circle cx="179.13" cy="339" r="1.2"/>
<circle cx="182.31" cy="339" r="1.2"/>
<circle cx="185.48" cy="339" r="1.2"/>
<circle cx="217.21" cy="339" r="1.2"/>
<circle cx="229.9" cy="339" r="1.2"/>
<circle cx="163.27" cy="352.42" r="1.2"/>
<circle cx="115.68" cy="357.9" r="1.2"/>
<circle cx="169.62" cy="357.9" r="1.2"/>
<circle cx="137.89" cy="362.62" r="1.2"/>
<circle cx="125.19" cy="370.56" r="1.2"/>
<circle cx="128.37" cy="370.56" r="1.2"/>
<circle cx="118.85" cy="386.25" r="1.2"/>
<circle cx="122.02" cy="386.25" r="1.2"/>
<circle cx="195" cy="386.25" r="1.2"/>
<circle cx="55.39" cy="395.7" r="1.2"/>
<circle cx="61.73" cy="395.7" r="1.2"/>
<circle cx="112.5" cy="395.7" r="1.2"/>
<circle cx="93.46" cy="401.94" r="1.2"/>
<circle cx="102.98" cy="406.47" r="1.2"/>
<circle cx="39.52" cy="433.5" r="1.2"/>
<circle cx="52.22" cy="433.5" r="1.2"/>
<circle cx="58.56" cy="433.5" r="1.2"/>
<circle cx="64.91" cy="433.5" r="1.2"/>
<circle cx="71.25" cy="433.5" r="1.2"/>
<circle cx="96.64" cy="433.5" r="1.2"/>
<circle cx="99.81" cy="433.5" r="1.2"/>
<circle cx="106.16" cy="433.5" r="1.2"/>
<circle cx="109.33" cy="433.5" r="1.2"/>
<circle cx="131.54" cy="433.5" r="1.2"/>
<circle cx="144.23" cy="433.5" r="1.2"/>
<circle cx="150.58" cy="433.5" r="1.2"/>
<circle cx="166.44" cy="433.5" r="1.2"/>
<circle cx="188.65" cy="433.5" r="1.2"/>
<circle cx="198.17" cy="433.5" r="1.2"/>
<circle cx="204.52" cy="433.5" r="1.2"/>
<circle cx="207.69" cy="433.5" r="1.2"/>
<circle cx="220.38" cy="433.5" r="1.2"/>
</g>
<g clip-path="url(#c2)" fill="none">
<path d="M36.35,433.5 L37.94,432.18 L39.52,430.86 L41.11,429.53 L42.7,428.21 L44.28,426.89 L45.87,425.57 L47.46,424.26 L49.04,422.94 L50.63,421.62 L52.22,420.3 L53.8,418.99 L55.39,417.67 L56.97,416.36 L58.56,415.04 L60.15,413.73 L61.73,412.42 L63.32,411.1 L64.91,409.79 L66.49,408.48 L68.08,407.17 L69.67,405.86 L71.25,404.55 L72.84,403.25 L74.43,401.94 L76.01,400.63 L77.6,399.32 L79.19,398.02 L80.77,396.71 L82.36,395.41 L83.94,394.11 L85.53,392.8 L87.12,391.5 L88.7,390.2 L90.29,388.9 L91.88,387.6 L93.46,386.3 L95.05,385 L96.64,383.7 L98.22,382.4 L99.81,381.11 L101.4,379.81 L102.98,378.51 L104.57,377.22 L106.16,375.92 L107.74,374.63 L109.33,373.34 L110.92,372.04 L112.5,370.75 L114.09,369.46 L115.68,368.17 L117.26,366.88 L118.85,365.59 L120.43,364.3 L122.02,363.01 L123.61,361.73 L125.19,360.44 L126.78,359.15 L128.37,357.87 L129.95,356.58 L131.54,355.3 L133.13,354.02 L134.71,352.73 L136.3,351.45 L137.89,350.17 L139.47,348.89 L141.06,347.61 L142.65,346.33 L144.23,345.05 L145.82,343.77 L147.41,342.49 L148.99,341.21 L150.58,339.94 L152.16,338.66 L153.75,337.39 L155.34,336.11 L156.92,334.84 L158.51,333.57 L160.1,332.29 L161.68,331.02 L163.27,329.75 L164.86,328.48 L166.44,327.21 L168.03,325.94 L169.62,324.67 L171.2,323.4 L172.79,322.13 L174.38,320.87 L175.96,319.6 L177.55,318.33 L179.13,317.07 L180.72,315.8 L182.31,314.54 L183.89,313.28 L185.48,312.02 L187.07,310.75 L188.65,309.49 L190.24,308.23 L191.83,306.97 L193.41,305.71 L195,304.45 L196.59,303.19 L198.17,301.94 L199.76,300.68 L201.35,299.42 L202.93,298.17 L204.52,296.91 L206.11,295.66 L207.69,294.41 L209.28,293.15 L210.87,291.9 L212.45,290.65 L214.04,289.4 L215.62,288.15 L217.21,286.9 L218.8,285.65 L220.38,284.4 L221.97,283.15 L223.56,281.9 L225.14,280.66 L226.73,279.41 L228.32,278.16 L229.9,276.92 L231.49,275.67 L233.08,274.43 L234.66,273.19 L236.25,271.94 L237.84,270.7 L239.42,269.46 L241.01,268.22 L242.59,266.98 L244.18,265.74 L245.77,264.5 L247.35,263.26 L248.94,262.03 L250.53,260.79 L252.11,259.55 L253.7,258.32 L255.29,257.08" stroke="#111" stroke-width="0.72" stroke-dasharray="0.55 1.6 2.2 1.6"/>
<path d="M36.35,433.5 L37.94,433.12 L39.52,432.74 L41.11,432.36 L42.7,431.98 L44.28,431.59 L45.87,431.21 L47.46,430.82 L49.04,430.43 L50.63,430.04 L52.22,429.65 L53.8,429.26 L55.39,428.87 L56.97,428.47 L58.56,428.08 L60.15,427.68 L61.73,427.28 L63.32,426.88 L64.91,426.48 L66.49,426.07 L68.08,425.67 L69.67,425.26 L71.25,424.86 L72.84,424.45 L74.43,424.04 L76.01,423.62 L77.6,423.21 L79.19,422.8 L80.77,422.38 L82.36,421.96 L83.94,421.54 L85.53,421.12 L87.12,420.7 L88.7,420.28 L90.29,419.85 L91.88,419.43 L93.46,419 L95.05,418.57 L96.64,418.14 L98.22,417.7 L99.81,417.27 L101.4,416.83 L102.98,416.4 L104.57,415.96 L106.16,415.52 L107.74,415.08 L109.33,414.63 L110.92,414.19 L112.5,413.74 L114.09,413.29 L115.68,412.85 L117.26,412.39 L118.85,411.94 L120.43,411.49 L122.02,411.03 L123.61,410.57 L125.19,410.12 L126.78,409.65 L128.37,409.19 L129.95,408.73 L131.54,408.26 L133.13,407.8 L134.71,407.33 L136.3,406.86 L137.89,406.38 L139.47,405.91 L141.06,405.44 L142.65,404.96 L144.23,404.48 L145.82,404 L147.41,403.52 L148.99,403.03 L150.58,402.55 L152.16,402.06 L153.75,401.57 L155.34,401.08 L156.92,400.59 L158.51,400.09 L160.1,399.6 L161.68,399.1 L163.27,398.6 L164.86,398.1 L166.44,397.6 L168.03,397.09 L169.62,396.59 L171.2,396.08 L172.79,395.57 L174.38,395.06 L175.96,394.54 L177.55,394.03 L179.13,393.51 L180.72,392.99 L182.31,392.47 L183.89,391.95 L185.48,391.43 L187.07,390.9 L188.65,390.37 L190.24,389.84 L191.83,389.31 L193.41,388.78 L195,388.24 L196.59,387.7 L198.17,387.16 L199.76,386.62 L201.35,386.08 L202.93,385.54 L204.52,384.99 L206.11,384.44 L207.69,383.89 L209.28,383.34 L210.87,382.78 L212.45,382.23 L214.04,381.67 L215.62,381.11 L217.21,380.54 L218.8,379.98 L220.38,379.41 L221.97,378.85 L223.56,378.27 L225.14,377.7 L226.73,377.13 L228.32,376.55 L229.9,375.97 L231.49,375.39 L233.08,374.81 L234.66,374.23 L236.25,373.64 L237.84,373.05 L239.42,372.46 L241.01,371.87 L242.59,371.27 L244.18,370.68 L245.77,370.08 L247.35,369.48 L248.94,368.87 L250.53,368.27 L252.11,367.66 L253.7,367.05 L255.29,366.44" stroke="#111" stroke-width="0.72" stroke-dasharray="0.55 1.6 2.2 1.6"/>
<path d="M36.35,433.5 L37.94,432.65 L39.52,431.8 L41.11,430.94 L42.7,430.09 L44.28,429.23 L45.87,428.37 L47.46,427.51 L49.04,426.65 L50.63,425.78 L52.22,424.92 L53.8,424.05 L55.39,423.19 L56.97,422.32 L58.56,421.45 L60.15,420.57 L61.73,419.7 L63.32,418.82 L64.91,417.95 L66.49,417.07 L68.08,416.19 L69.67,415.31 L71.25,414.42 L72.84,413.54 L74.43,412.65 L76.01,411.77 L77.6,410.88 L79.19,409.99 L80.77,409.09 L82.36,408.2 L83.94,407.3 L85.53,406.41 L87.12,405.51 L88.7,404.61 L90.29,403.71 L91.88,402.8 L93.46,401.9 L95.05,400.99 L96.64,400.08 L98.22,399.17 L99.81,398.26 L101.4,397.35 L102.98,396.43 L104.57,395.52 L106.16,394.6 L107.74,393.68 L109.33,392.76 L110.92,391.84 L112.5,390.91 L114.09,389.99 L115.68,389.06 L117.26,388.13 L118.85,387.2 L120.43,386.27 L122.02,385.33 L123.61,384.4 L125.19,383.46 L126.78,382.52 L128.37,381.58 L129.95,380.64 L131.54,379.69 L133.13,378.75 L134.71,377.8 L136.3,376.85 L137.89,375.9 L139.47,374.95 L141.06,374 L142.65,373.04 L144.23,372.08 L145.82,371.13 L147.41,370.16 L148.99,369.2 L150.58,368.24 L152.16,367.27 L153.75,366.31 L155.34,365.34 L156.92,364.37 L158.51,363.39 L160.1,362.42 L161.68,361.44 L163.27,360.47 L164.86,359.49 L166.44,358.51 L168.03,357.52 L169.62,356.54 L171.2,355.55 L172.79,354.57 L174.38,353.58 L175.96,352.59 L177.55,351.59 L179.13,350.6 L180.72,349.6 L182.31,348.6 L183.89,347.6 L185.48,346.6 L187.07,345.6 L188.65,344.59 L190.24,343.59 L191.83,342.58 L193.41,341.57 L195,340.55 L196.59,339.54 L198.17,338.52 L199.76,337.51 L201.35,336.49 L202.93,335.47 L204.52,334.44 L206.11,333.42 L207.69,332.39 L209.28,331.36 L210.87,330.33 L212.45,329.3 L214.04,328.27 L215.62,327.23 L217.21,326.19 L218.8,325.16 L220.38,324.11 L221.97,323.07 L223.56,322.03 L225.14,320.98 L226.73,319.93 L228.32,318.88 L229.9,317.83 L231.49,316.78 L233.08,315.72 L234.66,314.66 L236.25,313.6 L237.84,312.54 L239.42,311.48 L241.01,310.41 L242.59,309.35 L244.18,308.28 L245.77,307.21 L247.35,306.14 L248.94,305.06 L250.53,303.99 L252.11,302.91 L253.7,301.83 L255.29,300.75" stroke="#00ffff" stroke-width="0.8"/>
</g>
<path d="M22,235.5H337" stroke="#b5b5b5" stroke-width="1" fill="none"/>
<path d="M22.5,236V442.1" stroke="#a2a2a2" stroke-width="1" fill="none"/>
<path d="M336.5,236V442.1" stroke="#939393" stroke-width="1" fill="none"/>
<path d="M22,442.6H337" stroke="#868686" stroke-width="1" fill="none"/>
<path d="M20.2,433.5H22.5M20.2,414.6H22.5M20.2,395.7H22.5M20.2,376.8H22.5M20.2,357.9H22.5M20.2,339H22.5M20.2,320.1H22.5M20.2,301.2H22.5M20.2,282.3H22.5M20.2,263.4H22.5M20.2,244.5H22.5M36.35,442.6V444.9M68.08,442.6V444.9M99.81,442.6V444.9M131.54,442.6V444.9M163.27,442.6V444.9M195,442.6V444.9M226.73,442.6V444.9M258.46,442.6V444.9M290.19,442.6V444.9M321.92,442.6V444.9" stroke="#555" stroke-width="0.9" fill="none"/>
<g font-size="6.0" fill="#4d4d4d">
<text x="18.9" y="435.7" text-anchor="end">0</text>
<text x="18.9" y="416.8" text-anchor="end">10</text>
<text x="18.9" y="397.9" text-anchor="end">20</text>
<text x="18.9" y="379" text-anchor="end">30</text>
<text x="18.9" y="360.1" text-anchor="end">40</text>
<text x="18.9" y="341.2" text-anchor="end">50</text>
<text x="18.9" y="322.3" text-anchor="end">60</text>
<text x="18.9" y="303.4" text-anchor="end">70</text>
<text x="18.9" y="284.5" text-anchor="end">80</text>
<text x="18.9" y="265.6" text-anchor="end">90</text>
<text x="18.9" y="246.7" text-anchor="end">100</text>
<text x="36.35" y="451.2" text-anchor="middle">0</text>
<text x="68.08" y="451.2" text-anchor="middle">10</text>
<text x="99.81" y="451.2" text-anchor="middle">20</text>
<text x="131.54" y="451.2" text-anchor="middle">30</text>
<text x="163.27" y="451.2" text-anchor="middle">40</text>
<text x="195" y="451.2" text-anchor="middle">50</text>
<text x="226.73" y="451.2" text-anchor="middle">60</text>
<text x="258.46" y="451.2" text-anchor="middle">70</text>
<text x="290.19" y="451.2" text-anchor="middle">80</text>
<text x="321.92" y="451.2" text-anchor="middle">90</text>
</g>
<text x="179.5" y="460.4" font-size="7.3" fill="#000" text-anchor="middle">Age, years</text>
<text transform="translate(5.8,339.55) rotate(-90)" font-size="7.3" fill="#000" text-anchor="middle">Seroprevalence, %</text>
<rect x="30.7" y="240.8" width="51.6" height="20.6" rx="1.3" fill="#fff" stroke="#6e6e6e" stroke-width="1.05"/>
<text x="56.5" y="254.8" font-size="9.9" fill="#000" text-anchor="middle">Ia Grai</text>
<text x="290.19" y="398" font-size="7.1" fill="#111" stroke="#111" stroke-width="0.12" text-anchor="middle" textLength="77" lengthAdjust="spacing"><tspan font-family="Liberation Serif" font-size="8.3" fill="#333" stroke="none">λ</tspan> <tspan fill="#555" stroke="none">=</tspan> 0.009(0.004, 0.014)</text>
<text x="290.19" y="407.1" font-size="7.1" fill="#111" stroke="#111" stroke-width="0.12" text-anchor="middle" textLength="86.8" lengthAdjust="spacing"><tspan font-family="Liberation Serif" font-size="8.3" fill="#333" stroke="none">ρ</tspan> <tspan fill="#555" stroke="none">=</tspan> <tspan fill="#555" stroke="none">−</tspan>0.013(<tspan fill="#555" stroke="none">−</tspan>0.031, 0.005)</text>
<clipPath id="c3"><rect x="370.5" y="235.5" width="313.9" height="207.1"/></clipPath>
<path d="M370.5,424.05H684.4M370.5,405.15H684.4M370.5,386.25H684.4M370.5,367.35H684.4M370.5,348.45H684.4M370.5,329.55H684.4M370.5,310.65H684.4M370.5,291.75H684.4M370.5,272.85H684.4M370.5,253.95H684.4M400.31,235.5V442.6M432.04,235.5V442.6M463.77,235.5V442.6M495.5,235.5V442.6M527.24,235.5V442.6M558.97,235.5V442.6M590.69,235.5V442.6M622.42,235.5V442.6M654.15,235.5V442.6" stroke="#f6f6f6" stroke-width="0.9" fill="none"/>
<path d="M370.5,433.5H684.4M370.5,414.6H684.4M370.5,395.7H684.4M370.5,376.8H684.4M370.5,357.9H684.4M370.5,339H684.4M370.5,320.1H684.4M370.5,301.2H684.4M370.5,282.3H684.4M370.5,263.4H684.4M370.5,244.5H684.4M384.45,235.5V442.6M416.18,235.5V442.6M447.91,235.5V442.6M479.64,235.5V442.6M511.37,235.5V442.6M543.1,235.5V442.6M574.83,235.5V442.6M606.56,235.5V442.6M638.29,235.5V442.6M670.02,235.5V442.6" stroke="#f1f1f1" stroke-width="1" fill="none"/>
<g clip-path="url(#c3)" fill="none" stroke="#ff80ff" stroke-width="0.8">
<circle cx="514.54" cy="244.5" r="1.2"/>
<circle cx="530.41" cy="244.5" r="1.2"/>
<circle cx="533.58" cy="244.5" r="1.2"/>
<circle cx="543.1" cy="244.5" r="1.2"/>
<circle cx="578" cy="244.5" r="1.2"/>
<circle cx="587.52" cy="244.5" r="1.2"/>
<circle cx="425.7" cy="265.48" r="1.2"/>
<circle cx="473.29" cy="273.61" r="1.2"/>
<circle cx="432.04" cy="276.06" r="1.2"/>
<circle cx="520.89" cy="282.3" r="1.2"/>
<circle cx="536.75" cy="282.3" r="1.2"/>
<circle cx="546.27" cy="282.3" r="1.2"/>
<circle cx="549.45" cy="282.3" r="1.2"/>
<circle cx="470.12" cy="291.75" r="1.2"/>
<circle cx="527.24" cy="291.75" r="1.2"/>
<circle cx="552.62" cy="291.75" r="1.2"/>
<circle cx="571.66" cy="291.75" r="1.2"/>
<circle cx="581.18" cy="291.75" r="1.2"/>
<circle cx="590.69" cy="291.75" r="1.2"/>
<circle cx="479.64" cy="294.4" r="1.2"/>
<circle cx="489.16" cy="294.4" r="1.2"/>
<circle cx="498.68" cy="294.77" r="1.2"/>
<circle cx="463.77" cy="296.1" r="1.2"/>
<circle cx="466.95" cy="296.1" r="1.2"/>
<circle cx="460.6" cy="298.55" r="1.2"/>
<circle cx="482.81" cy="298.55" r="1.2"/>
<circle cx="505.02" cy="298.37" r="1.2"/>
<circle cx="444.74" cy="301.2" r="1.2"/>
<circle cx="476.47" cy="307.44" r="1.2"/>
<circle cx="485.99" cy="307.44" r="1.2"/>
<circle cx="501.85" cy="307.44" r="1.2"/>
<circle cx="517.72" cy="307.44" r="1.2"/>
<circle cx="562.14" cy="307.44" r="1.2"/>
<circle cx="568.48" cy="307.44" r="1.2"/>
<circle cx="574.83" cy="307.44" r="1.2"/>
<circle cx="454.26" cy="315.38" r="1.2"/>
<circle cx="495.5" cy="315.38" r="1.2"/>
<circle cx="565.31" cy="315.38" r="1.2"/>
<circle cx="511.37" cy="318.02" r="1.2"/>
<circle cx="441.56" cy="321.42" r="1.2"/>
<circle cx="447.91" cy="323.31" r="1.2"/>
<circle cx="524.06" cy="325.58" r="1.2"/>
<circle cx="451.08" cy="330.5" r="1.2"/>
<circle cx="413.01" cy="339" r="1.2"/>
<circle cx="457.43" cy="339" r="1.2"/>
<circle cx="492.33" cy="339" r="1.2"/>
<circle cx="508.2" cy="339" r="1.2"/>
<circle cx="539.93" cy="339" r="1.2"/>
<circle cx="584.35" cy="339" r="1.2"/>
<circle cx="406.66" cy="346.18" r="1.2"/>
<circle cx="422.53" cy="346.18" r="1.2"/>
<circle cx="438.39" cy="357.9" r="1.2"/>
<circle cx="409.83" cy="370.56" r="1.2"/>
<circle cx="416.18" cy="370.56" r="1.2"/>
<circle cx="428.87" cy="370.56" r="1.2"/>
<circle cx="435.22" cy="379.45" r="1.2"/>
<circle cx="419.35" cy="383.6" r="1.2"/>
<circle cx="403.49" cy="386.25" r="1.2"/>
<circle cx="555.79" cy="386.25" r="1.2"/>
<circle cx="558.97" cy="433.5" r="1.2"/>
</g>
<g clip-path="url(#c3)" fill="none">
<path d="M384.45,433.5 L386.04,426.13 L387.62,419.13 L389.21,412.49 L390.8,406.17 L392.38,400.17 L393.97,394.48 L395.56,389.07 L397.14,383.93 L398.73,379.05 L400.31,374.41 L401.9,370.01 L403.49,365.83 L405.07,361.86 L406.66,358.09 L408.25,354.5 L409.83,351.1 L411.42,347.87 L413.01,344.8 L414.59,341.88 L416.18,339.11 L417.77,336.48 L419.35,333.98 L420.94,331.61 L422.53,329.35 L424.11,327.21 L425.7,325.18 L427.29,323.25 L428.87,321.41 L430.46,319.67 L432.04,318.02 L433.63,316.45 L435.22,314.95 L436.8,313.53 L438.39,312.19 L439.98,310.91 L441.56,309.69 L443.15,308.54 L444.74,307.44 L446.32,306.4 L447.91,305.41 L449.5,304.47 L451.08,303.58 L452.67,302.74 L454.26,301.93 L455.84,301.17 L457.43,300.44 L459.02,299.75 L460.6,299.1 L462.19,298.47 L463.77,297.88 L465.36,297.32 L466.95,296.79 L468.53,296.28 L470.12,295.8 L471.71,295.35 L473.29,294.91 L474.88,294.5 L476.47,294.11 L478.05,293.74 L479.64,293.38 L481.23,293.05 L482.81,292.73 L484.4,292.43 L485.99,292.14 L487.57,291.87 L489.16,291.61 L490.75,291.36 L492.33,291.13 L493.92,290.91 L495.5,290.69 L497.09,290.49 L498.68,290.3 L500.26,290.12 L501.85,289.95 L503.44,289.79 L505.02,289.63 L506.61,289.49 L508.2,289.35 L509.78,289.21 L511.37,289.09 L512.96,288.97 L514.54,288.86 L516.13,288.75 L517.72,288.64 L519.3,288.55 L520.89,288.45 L522.48,288.37 L524.06,288.28 L525.65,288.2 L527.24,288.13 L528.82,288.06 L530.41,287.99 L531.99,287.92 L533.58,287.86 L535.17,287.81 L536.75,287.75 L538.34,287.7 L539.93,287.65 L541.51,287.6 L543.1,287.56 L544.69,287.51 L546.27,287.47 L547.86,287.43 L549.45,287.4 L551.03,287.36 L552.62,287.33 L554.21,287.3 L555.79,287.27 L557.38,287.24 L558.97,287.21 L560.55,287.19 L562.14,287.16 L563.72,287.14 L565.31,287.12 L566.9,287.1 L568.48,287.08 L570.07,287.06 L571.66,287.04 L573.24,287.02 L574.83,287.01 L576.42,286.99 L578,286.98 L579.59,286.96 L581.18,286.95 L582.76,286.94 L584.35,286.93 L585.94,286.92 L587.52,286.91 L589.11,286.9 L590.69,286.89 L592.28,286.88 L593.87,286.87 L595.45,286.86 L597.04,286.85 L598.63,286.84 L600.21,286.84 L601.8,286.83 L603.39,286.82" stroke="#111" stroke-width="0.72" stroke-dasharray="0.55 1.6 2.2 1.6"/>
<path d="M384.45,433.5 L386.04,429.23 L387.62,425.1 L389.21,421.11 L390.8,417.26 L392.38,413.54 L393.97,409.94 L395.56,406.47 L397.14,403.11 L398.73,399.87 L400.31,396.74 L401.9,393.71 L403.49,390.79 L405.07,387.96 L406.66,385.23 L408.25,382.6 L409.83,380.05 L411.42,377.59 L413.01,375.21 L414.59,372.92 L416.18,370.7 L417.77,368.56 L419.35,366.48 L420.94,364.48 L422.53,362.55 L424.11,360.69 L425.7,358.88 L427.29,357.14 L428.87,355.46 L430.46,353.83 L432.04,352.26 L433.63,350.74 L435.22,349.27 L436.8,347.86 L438.39,346.49 L439.98,345.17 L441.56,343.89 L443.15,342.66 L444.74,341.46 L446.32,340.31 L447.91,339.2 L449.5,338.12 L451.08,337.09 L452.67,336.08 L454.26,335.11 L455.84,334.18 L457.43,333.27 L459.02,332.4 L460.6,331.55 L462.19,330.74 L463.77,329.95 L465.36,329.19 L466.95,328.45 L468.53,327.74 L470.12,327.06 L471.71,326.39 L473.29,325.75 L474.88,325.13 L476.47,324.54 L478.05,323.96 L479.64,323.4 L481.23,322.86 L482.81,322.34 L484.4,321.84 L485.99,321.35 L487.57,320.88 L489.16,320.43 L490.75,319.99 L492.33,319.56 L493.92,319.16 L495.5,318.76 L497.09,318.38 L498.68,318.01 L500.26,317.65 L501.85,317.31 L503.44,316.98 L505.02,316.65 L506.61,316.34 L508.2,316.04 L509.78,315.75 L511.37,315.47 L512.96,315.2 L514.54,314.94 L516.13,314.69 L517.72,314.45 L519.3,314.21 L520.89,313.98 L522.48,313.76 L524.06,313.55 L525.65,313.35 L527.24,313.15 L528.82,312.96 L530.41,312.77 L531.99,312.59 L533.58,312.42 L535.17,312.25 L536.75,312.09 L538.34,311.94 L539.93,311.79 L541.51,311.64 L543.1,311.5 L544.69,311.36 L546.27,311.23 L547.86,311.11 L549.45,310.98 L551.03,310.87 L552.62,310.75 L554.21,310.64 L555.79,310.54 L557.38,310.43 L558.97,310.33 L560.55,310.24 L562.14,310.14 L563.72,310.05 L565.31,309.97 L566.9,309.88 L568.48,309.8 L570.07,309.73 L571.66,309.65 L573.24,309.58 L574.83,309.51 L576.42,309.44 L578,309.37 L579.59,309.31 L581.18,309.25 L582.76,309.19 L584.35,309.13 L585.94,309.08 L587.52,309.02 L589.11,308.97 L590.69,308.92 L592.28,308.87 L593.87,308.83 L595.45,308.78 L597.04,308.74 L598.63,308.7 L600.21,308.66 L601.8,308.62 L603.39,308.58" stroke="#111" stroke-width="0.72" stroke-dasharray="0.55 1.6 2.2 1.6"/>
<path d="M384.45,433.5 L386.04,427.67 L387.62,422.09 L389.21,416.74 L390.8,411.62 L392.38,406.71 L393.97,402.02 L395.56,397.51 L397.14,393.2 L398.73,389.07 L400.31,385.11 L401.9,381.32 L403.49,377.69 L405.07,374.21 L406.66,370.88 L408.25,367.69 L409.83,364.63 L411.42,361.7 L413.01,358.9 L414.59,356.21 L416.18,353.63 L417.77,351.17 L419.35,348.81 L420.94,346.54 L422.53,344.38 L424.11,342.3 L425.7,340.31 L427.29,338.41 L428.87,336.58 L430.46,334.83 L432.04,333.16 L433.63,331.55 L435.22,330.02 L436.8,328.55 L438.39,327.14 L439.98,325.79 L441.56,324.49 L443.15,323.25 L444.74,322.07 L446.32,320.93 L447.91,319.84 L449.5,318.8 L451.08,317.8 L452.67,316.84 L454.26,315.92 L455.84,315.04 L457.43,314.2 L459.02,313.39 L460.6,312.62 L462.19,311.88 L463.77,311.17 L465.36,310.5 L466.95,309.85 L468.53,309.22 L470.12,308.63 L471.71,308.05 L473.29,307.51 L474.88,306.98 L476.47,306.48 L478.05,306 L479.64,305.54 L481.23,305.1 L482.81,304.67 L484.4,304.27 L485.99,303.88 L487.57,303.51 L489.16,303.15 L490.75,302.81 L492.33,302.48 L493.92,302.17 L495.5,301.87 L497.09,301.58 L498.68,301.31 L500.26,301.05 L501.85,300.79 L503.44,300.55 L505.02,300.32 L506.61,300.1 L508.2,299.88 L509.78,299.68 L511.37,299.49 L512.96,299.3 L514.54,299.12 L516.13,298.95 L517.72,298.78 L519.3,298.63 L520.89,298.48 L522.48,298.33 L524.06,298.19 L525.65,298.06 L527.24,297.93 L528.82,297.81 L530.41,297.7 L531.99,297.58 L533.58,297.48 L535.17,297.38 L536.75,297.28 L538.34,297.18 L539.93,297.09 L541.51,297.01 L543.1,296.93 L544.69,296.85 L546.27,296.77 L547.86,296.7 L549.45,296.63 L551.03,296.56 L552.62,296.5 L554.21,296.44 L555.79,296.38 L557.38,296.32 L558.97,296.27 L560.55,296.22 L562.14,296.17 L563.72,296.12 L565.31,296.08 L566.9,296.03 L568.48,295.99 L570.07,295.95 L571.66,295.91 L573.24,295.88 L574.83,295.84 L576.42,295.81 L578,295.78 L579.59,295.75 L581.18,295.72 L582.76,295.69 L584.35,295.66 L585.94,295.63 L587.52,295.61 L589.11,295.59 L590.69,295.56 L592.28,295.54 L593.87,295.52 L595.45,295.5 L597.04,295.48 L598.63,295.46 L600.21,295.45 L601.8,295.43 L603.39,295.41" stroke="#ff30ff" stroke-width="0.8"/>
</g>
<path d="M370,235.5H684.9" stroke="#b5b5b5" stroke-width="1" fill="none"/>
<path d="M370.5,236V442.1" stroke="#a2a2a2" stroke-width="1" fill="none"/>
<path d="M684.4,236V442.1" stroke="#939393" stroke-width="1" fill="none"/>
<path d="M370,442.6H684.9" stroke="#868686" stroke-width="1" fill="none"/>
<path d="M368.2,433.5H370.5M368.2,414.6H370.5M368.2,395.7H370.5M368.2,376.8H370.5M368.2,357.9H370.5M368.2,339H370.5M368.2,320.1H370.5M368.2,301.2H370.5M368.2,282.3H370.5M368.2,263.4H370.5M368.2,244.5H370.5M384.45,442.6V444.9M416.18,442.6V444.9M447.91,442.6V444.9M479.64,442.6V444.9M511.37,442.6V444.9M543.1,442.6V444.9M574.83,442.6V444.9M606.56,442.6V444.9M638.29,442.6V444.9M670.02,442.6V444.9" stroke="#555" stroke-width="0.9" fill="none"/>
<g font-size="6.0" fill="#4d4d4d">
<text x="366.9" y="435.7" text-anchor="end">0</text>
<text x="366.9" y="416.8" text-anchor="end">10</text>
<text x="366.9" y="397.9" text-anchor="end">20</text>
<text x="366.9" y="379" text-anchor="end">30</text>
<text x="366.9" y="360.1" text-anchor="end">40</text>
<text x="366.9" y="341.2" text-anchor="end">50</text>
<text x="366.9" y="322.3" text-anchor="end">60</text>
<text x="366.9" y="303.4" text-anchor="end">70</text>
<text x="366.9" y="284.5" text-anchor="end">80</text>
<text x="366.9" y="265.6" text-anchor="end">90</text>
<text x="366.9" y="246.7" text-anchor="end">100</text>
<text x="384.45" y="451.2" text-anchor="middle">0</text>
<text x="416.18" y="451.2" text-anchor="middle">10</text>
<text x="447.91" y="451.2" text-anchor="middle">20</text>
<text x="479.64" y="451.2" text-anchor="middle">30</text>
<text x="511.37" y="451.2" text-anchor="middle">40</text>
<text x="543.1" y="451.2" text-anchor="middle">50</text>
<text x="574.83" y="451.2" text-anchor="middle">60</text>
<text x="606.56" y="451.2" text-anchor="middle">70</text>
<text x="638.29" y="451.2" text-anchor="middle">80</text>
<text x="670.02" y="451.2" text-anchor="middle">90</text>
</g>
<text x="527.45" y="460.4" font-size="7.3" fill="#000" text-anchor="middle">Age, years</text>
<text transform="translate(353.8,339.55) rotate(-90)" font-size="7.3" fill="#000" text-anchor="middle">Seroprevalence, %</text>
<rect x="380.3" y="240.6" width="61.9" height="21.7" rx="1.3" fill="#fff" stroke="#6e6e6e" stroke-width="1.05"/>
<text x="411.25" y="255.15" font-size="9.9" fill="#000" text-anchor="middle">Krong Pa</text>
<text x="638.29" y="398" font-size="7.1" fill="#111" stroke="#111" stroke-width="0.12" text-anchor="middle" textLength="73.5" lengthAdjust="spacing"><tspan font-family="Liberation Serif" font-size="8.3" fill="#333" stroke="none">λ</tspan> <tspan fill="#555" stroke="none">=</tspan> 0.063(0.046, 0.08)</text>
<text x="638.29" y="407.1" font-size="7.1" fill="#111" stroke="#111" stroke-width="0.12" text-anchor="middle" textLength="77.8" lengthAdjust="spacing"><tspan font-family="Liberation Serif" font-size="8.3" fill="#333" stroke="none">ρ</tspan> <tspan fill="#555" stroke="none">=</tspan> 0.023(0.011, 0.036)</text>
<clipPath id="c4"><rect x="22.5" y="471.4" width="314" height="207.6"/></clipPath>
<path d="M22.5,660.05H336.5M22.5,641.15H336.5M22.5,622.25H336.5M22.5,603.35H336.5M22.5,584.45H336.5M22.5,565.55H336.5M22.5,546.65H336.5M22.5,527.75H336.5M22.5,508.85H336.5M22.5,489.95H336.5M52.22,471.4V679M83.94,471.4V679M115.68,471.4V679M147.41,471.4V679M179.13,471.4V679M210.87,471.4V679M242.59,471.4V679M274.32,471.4V679M306.06,471.4V679" stroke="#f6f6f6" stroke-width="0.9" fill="none"/>
<path d="M22.5,669.5H336.5M22.5,650.6H336.5M22.5,631.7H336.5M22.5,612.8H336.5M22.5,593.9H336.5M22.5,575H336.5M22.5,556.1H336.5M22.5,537.2H336.5M22.5,518.3H336.5M22.5,499.4H336.5M22.5,480.5H336.5M36.35,471.4V679M68.08,471.4V679M99.81,471.4V679M131.54,471.4V679M163.27,471.4V679M195,471.4V679M226.73,471.4V679M258.46,471.4V679M290.19,471.4V679M321.92,471.4V679" stroke="#f1f1f1" stroke-width="1" fill="none"/>
<g clip-path="url(#c4)" fill="none" stroke="#ffff96" stroke-width="0.8">
<circle cx="109.33" cy="480.5" r="1.2"/>
<circle cx="166.44" cy="480.5" r="1.2"/>
<circle cx="172.79" cy="480.5" r="1.2"/>
<circle cx="179.13" cy="480.5" r="1.2"/>
<circle cx="182.31" cy="480.5" r="1.2"/>
<circle cx="185.48" cy="480.5" r="1.2"/>
<circle cx="188.65" cy="480.5" r="1.2"/>
<circle cx="198.17" cy="480.5" r="1.2"/>
<circle cx="201.35" cy="480.5" r="1.2"/>
<circle cx="204.52" cy="480.5" r="1.2"/>
<circle cx="207.69" cy="480.5" r="1.2"/>
<circle cx="210.87" cy="480.5" r="1.2"/>
<circle cx="217.21" cy="480.5" r="1.2"/>
<circle cx="220.38" cy="480.5" r="1.2"/>
<circle cx="233.08" cy="480.5" r="1.2"/>
<circle cx="236.25" cy="480.5" r="1.2"/>
<circle cx="131.54" cy="488.25" r="1.2"/>
<circle cx="118.85" cy="491.46" r="1.2"/>
<circle cx="163.27" cy="492.22" r="1.2"/>
<circle cx="134.71" cy="496.19" r="1.2"/>
<circle cx="122.02" cy="498.27" r="1.2"/>
<circle cx="153.75" cy="499.21" r="1.2"/>
<circle cx="96.64" cy="502.24" r="1.2"/>
<circle cx="99.81" cy="502.61" r="1.2"/>
<circle cx="102.98" cy="501.29" r="1.2"/>
<circle cx="128.37" cy="501.48" r="1.2"/>
<circle cx="150.58" cy="501.67" r="1.2"/>
<circle cx="106.16" cy="503.94" r="1.2"/>
<circle cx="93.46" cy="506.96" r="1.2"/>
<circle cx="77.6" cy="505.83" r="1.2"/>
<circle cx="115.68" cy="507.53" r="1.2"/>
<circle cx="147.41" cy="507.53" r="1.2"/>
<circle cx="64.91" cy="508.66" r="1.2"/>
<circle cx="137.89" cy="512.25" r="1.2"/>
<circle cx="141.06" cy="512.25" r="1.2"/>
<circle cx="169.62" cy="514.9" r="1.2"/>
<circle cx="68.08" cy="518.3" r="1.2"/>
<circle cx="144.23" cy="518.3" r="1.2"/>
<circle cx="160.1" cy="518.3" r="1.2"/>
<circle cx="195" cy="518.3" r="1.2"/>
<circle cx="83.94" cy="522.46" r="1.2"/>
<circle cx="156.92" cy="522.46" r="1.2"/>
<circle cx="226.73" cy="522.46" r="1.2"/>
<circle cx="112.5" cy="524.16" r="1.2"/>
<circle cx="52.22" cy="527.75" r="1.2"/>
<circle cx="90.29" cy="527.75" r="1.2"/>
<circle cx="125.19" cy="527.75" r="1.2"/>
<circle cx="242.59" cy="532.1" r="1.2"/>
<circle cx="239.42" cy="534.55" r="1.2"/>
<circle cx="58.56" cy="543.44" r="1.2"/>
<circle cx="175.96" cy="543.44" r="1.2"/>
<circle cx="229.9" cy="543.44" r="1.2"/>
<circle cx="80.77" cy="553.26" r="1.2"/>
<circle cx="74.43" cy="561.58" r="1.2"/>
<circle cx="55.39" cy="570.46" r="1.2"/>
<circle cx="61.73" cy="575" r="1.2"/>
<circle cx="191.83" cy="575" r="1.2"/>
<circle cx="223.56" cy="575" r="1.2"/>
</g>
<g clip-path="url(#c4)" fill="none">
<path d="M36.35,669.5 L37.94,651.11 L39.52,634.7 L41.11,620.07 L42.7,607.03 L44.28,595.39 L45.87,585.02 L47.46,575.76 L49.04,567.51 L50.63,560.15 L52.22,553.59 L53.8,547.73 L55.39,542.51 L56.97,537.86 L58.56,533.71 L60.15,530 L61.73,526.7 L63.32,523.76 L64.91,521.13 L66.49,518.79 L68.08,516.7 L69.67,514.84 L71.25,513.18 L72.84,511.69 L74.43,510.37 L76.01,509.19 L77.6,508.14 L79.19,507.21 L80.77,506.37 L82.36,505.63 L83.94,504.96 L85.53,504.37 L87.12,503.84 L88.7,503.37 L90.29,502.95 L91.88,502.57 L93.46,502.24 L95.05,501.94 L96.64,501.67 L98.22,501.44 L99.81,501.23 L101.4,501.04 L102.98,500.87 L104.57,500.72 L106.16,500.59 L107.74,500.47 L109.33,500.36 L110.92,500.26 L112.5,500.18 L114.09,500.1 L115.68,500.04 L117.26,499.98 L118.85,499.92 L120.43,499.88 L122.02,499.83 L123.61,499.8 L125.19,499.76 L126.78,499.73 L128.37,499.7 L129.95,499.68 L131.54,499.66 L133.13,499.64 L134.71,499.62 L136.3,499.61 L137.89,499.59 L139.47,499.58 L141.06,499.57 L142.65,499.56 L144.23,499.55 L145.82,499.55 L147.41,499.54 L148.99,499.53 L150.58,499.53 L152.16,499.52 L153.75,499.52 L155.34,499.51 L156.92,499.51 L158.51,499.51 L160.1,499.51 L161.68,499.5 L163.27,499.5 L164.86,499.5 L166.44,499.5 L168.03,499.5 L169.62,499.49 L171.2,499.49 L172.79,499.49 L174.38,499.49 L175.96,499.49 L177.55,499.49 L179.13,499.49 L180.72,499.49 L182.31,499.49 L183.89,499.49 L185.48,499.49 L187.07,499.49 L188.65,499.49 L190.24,499.49 L191.83,499.48 L193.41,499.48 L195,499.48 L196.59,499.48 L198.17,499.48 L199.76,499.48 L201.35,499.48 L202.93,499.48 L204.52,499.48 L206.11,499.48 L207.69,499.48 L209.28,499.48 L210.87,499.48 L212.45,499.48 L214.04,499.48 L215.62,499.48 L217.21,499.48 L218.8,499.48 L220.38,499.48 L221.97,499.48 L223.56,499.48 L225.14,499.48 L226.73,499.48 L228.32,499.48 L229.9,499.48 L231.49,499.48 L233.08,499.48 L234.66,499.48 L236.25,499.48 L237.84,499.48 L239.42,499.48 L241.01,499.48 L242.59,499.48 L244.18,499.48 L245.77,499.48 L247.35,499.48 L248.94,499.48 L250.53,499.48 L252.11,499.48 L253.7,499.48 L255.29,499.48" stroke="#111" stroke-width="0.72" stroke-dasharray="0.55 1.6 2.2 1.6"/>
<path d="M36.35,669.5 L37.94,658.82 L39.52,648.87 L41.11,639.58 L42.7,630.93 L44.28,622.86 L45.87,615.33 L47.46,608.31 L49.04,601.77 L50.63,595.67 L52.22,589.99 L53.8,584.68 L55.39,579.74 L56.97,575.13 L58.56,570.83 L60.15,566.82 L61.73,563.09 L63.32,559.6 L64.91,556.35 L66.49,553.32 L68.08,550.5 L69.67,547.87 L71.25,545.41 L72.84,543.12 L74.43,540.99 L76.01,539 L77.6,537.14 L79.19,535.41 L80.77,533.8 L82.36,532.29 L83.94,530.89 L85.53,529.58 L87.12,528.37 L88.7,527.23 L90.29,526.17 L91.88,525.18 L93.46,524.26 L95.05,523.4 L96.64,522.6 L98.22,521.85 L99.81,521.15 L101.4,520.51 L102.98,519.9 L104.57,519.34 L106.16,518.81 L107.74,518.32 L109.33,517.86 L110.92,517.43 L112.5,517.04 L114.09,516.67 L115.68,516.32 L117.26,516 L118.85,515.7 L120.43,515.42 L122.02,515.15 L123.61,514.91 L125.19,514.68 L126.78,514.47 L128.37,514.27 L129.95,514.09 L131.54,513.92 L133.13,513.76 L134.71,513.61 L136.3,513.47 L137.89,513.34 L139.47,513.22 L141.06,513.11 L142.65,513 L144.23,512.9 L145.82,512.81 L147.41,512.73 L148.99,512.65 L150.58,512.57 L152.16,512.5 L153.75,512.44 L155.34,512.38 L156.92,512.32 L158.51,512.27 L160.1,512.22 L161.68,512.18 L163.27,512.13 L164.86,512.09 L166.44,512.06 L168.03,512.02 L169.62,511.99 L171.2,511.96 L172.79,511.93 L174.38,511.91 L175.96,511.88 L177.55,511.86 L179.13,511.84 L180.72,511.82 L182.31,511.8 L183.89,511.79 L185.48,511.77 L187.07,511.75 L188.65,511.74 L190.24,511.73 L191.83,511.72 L193.41,511.7 L195,511.69 L196.59,511.68 L198.17,511.68 L199.76,511.67 L201.35,511.66 L202.93,511.65 L204.52,511.64 L206.11,511.64 L207.69,511.63 L209.28,511.63 L210.87,511.62 L212.45,511.62 L214.04,511.61 L215.62,511.61 L217.21,511.6 L218.8,511.6 L220.38,511.6 L221.97,511.59 L223.56,511.59 L225.14,511.59 L226.73,511.59 L228.32,511.58 L229.9,511.58 L231.49,511.58 L233.08,511.58 L234.66,511.58 L236.25,511.57 L237.84,511.57 L239.42,511.57 L241.01,511.57 L242.59,511.57 L244.18,511.57 L245.77,511.57 L247.35,511.56 L248.94,511.56 L250.53,511.56 L252.11,511.56 L253.7,511.56 L255.29,511.56" stroke="#111" stroke-width="0.72" stroke-dasharray="0.55 1.6 2.2 1.6"/>
<path d="M36.35,669.5 L37.94,654.88 L39.52,641.55 L41.11,629.39 L42.7,618.32 L44.28,608.22 L45.87,599.01 L47.46,590.61 L49.04,582.96 L50.63,575.98 L52.22,569.62 L53.8,563.83 L55.39,558.54 L56.97,553.72 L58.56,549.33 L60.15,545.32 L61.73,541.67 L63.32,538.34 L64.91,535.31 L66.49,532.54 L68.08,530.02 L69.67,527.72 L71.25,525.63 L72.84,523.71 L74.43,521.97 L76.01,520.38 L77.6,518.94 L79.19,517.62 L80.77,516.41 L82.36,515.32 L83.94,514.32 L85.53,513.4 L87.12,512.57 L88.7,511.82 L90.29,511.12 L91.88,510.5 L93.46,509.92 L95.05,509.4 L96.64,508.92 L98.22,508.49 L99.81,508.09 L101.4,507.73 L102.98,507.4 L104.57,507.1 L106.16,506.82 L107.74,506.57 L109.33,506.35 L110.92,506.14 L112.5,505.95 L114.09,505.78 L115.68,505.62 L117.26,505.48 L118.85,505.35 L120.43,505.23 L122.02,505.12 L123.61,505.02 L125.19,504.93 L126.78,504.85 L128.37,504.77 L129.95,504.7 L131.54,504.64 L133.13,504.58 L134.71,504.53 L136.3,504.48 L137.89,504.44 L139.47,504.4 L141.06,504.37 L142.65,504.33 L144.23,504.3 L145.82,504.28 L147.41,504.25 L148.99,504.23 L150.58,504.21 L152.16,504.19 L153.75,504.17 L155.34,504.16 L156.92,504.14 L158.51,504.13 L160.1,504.12 L161.68,504.11 L163.27,504.1 L164.86,504.09 L166.44,504.08 L168.03,504.07 L169.62,504.07 L171.2,504.06 L172.79,504.06 L174.38,504.05 L175.96,504.05 L177.55,504.04 L179.13,504.04 L180.72,504.03 L182.31,504.03 L183.89,504.03 L185.48,504.03 L187.07,504.02 L188.65,504.02 L190.24,504.02 L191.83,504.02 L193.41,504.01 L195,504.01 L196.59,504.01 L198.17,504.01 L199.76,504.01 L201.35,504.01 L202.93,504.01 L204.52,504.01 L206.11,504.01 L207.69,504 L209.28,504 L210.87,504 L212.45,504 L214.04,504 L215.62,504 L217.21,504 L218.8,504 L220.38,504 L221.97,504 L223.56,504 L225.14,504 L226.73,504 L228.32,504 L229.9,504 L231.49,504 L233.08,504 L234.66,504 L236.25,504 L237.84,504 L239.42,504 L241.01,504 L242.59,504 L244.18,504 L245.77,504 L247.35,504 L248.94,504 L250.53,504 L252.11,504 L253.7,504 L255.29,504" stroke="#ffff00" stroke-width="0.8"/>
</g>
<path d="M22,471.4H337" stroke="#b5b5b5" stroke-width="1" fill="none"/>
<path d="M22.5,471.9V678.5" stroke="#a2a2a2" stroke-width="1" fill="none"/>
<path d="M336.5,471.9V678.5" stroke="#939393" stroke-width="1" fill="none"/>
<path d="M22,679H337" stroke="#868686" stroke-width="1" fill="none"/>
<path d="M20.2,669.5H22.5M20.2,650.6H22.5M20.2,631.7H22.5M20.2,612.8H22.5M20.2,593.9H22.5M20.2,575H22.5M20.2,556.1H22.5M20.2,537.2H22.5M20.2,518.3H22.5M20.2,499.4H22.5M20.2,480.5H22.5M36.35,679V681.3M68.08,679V681.3M99.81,679V681.3M131.54,679V681.3M163.27,679V681.3M195,679V681.3M226.73,679V681.3M258.46,679V681.3M290.19,679V681.3M321.92,679V681.3" stroke="#555" stroke-width="0.9" fill="none"/>
<g font-size="6.0" fill="#4d4d4d">
<text x="18.9" y="671.7" text-anchor="end">0</text>
<text x="18.9" y="652.8" text-anchor="end">10</text>
<text x="18.9" y="633.9" text-anchor="end">20</text>
<text x="18.9" y="615" text-anchor="end">30</text>
<text x="18.9" y="596.1" text-anchor="end">40</text>
<text x="18.9" y="577.2" text-anchor="end">50</text>
<text x="18.9" y="558.3" text-anchor="end">60</text>
<text x="18.9" y="539.4" text-anchor="end">70</text>
<text x="18.9" y="520.5" text-anchor="end">80</text>
<text x="18.9" y="501.6" text-anchor="end">90</text>
<text x="18.9" y="482.7" text-anchor="end">100</text>
<text x="36.35" y="687.6" text-anchor="middle">0</text>
<text x="68.08" y="687.6" text-anchor="middle">10</text>
<text x="99.81" y="687.6" text-anchor="middle">20</text>
<text x="131.54" y="687.6" text-anchor="middle">30</text>
<text x="163.27" y="687.6" text-anchor="middle">40</text>
<text x="195" y="687.6" text-anchor="middle">50</text>
<text x="226.73" y="687.6" text-anchor="middle">60</text>
<text x="258.46" y="687.6" text-anchor="middle">70</text>
<text x="290.19" y="687.6" text-anchor="middle">80</text>
<text x="321.92" y="687.6" text-anchor="middle">90</text>
</g>
<text x="179.5" y="696.8" font-size="7.3" fill="#000" text-anchor="middle">Age, years</text>
<text transform="translate(5.8,575.7) rotate(-90)" font-size="7.3" fill="#000" text-anchor="middle">Seroprevalence, %</text>
<rect x="30.5" y="479.5" width="67.1" height="20.6" rx="0.6" fill="#fff" stroke="#4d4d4d" stroke-width="1"/>
<text x="64.05" y="493.5" font-size="9.9" fill="#000" text-anchor="middle">Kong Chro</text>
<text x="290.19" y="634" font-size="7.1" fill="#111" stroke="#111" stroke-width="0.12" text-anchor="middle" textLength="77.4" lengthAdjust="spacing"><tspan font-family="Liberation Serif" font-size="8.3" fill="#333" stroke="none">λ</tspan> <tspan fill="#555" stroke="none">=</tspan> 0.162(0.117, 0.206)</text>
<text x="290.19" y="643.1" font-size="7.1" fill="#111" stroke="#111" stroke-width="0.12" text-anchor="middle" textLength="77" lengthAdjust="spacing"><tspan font-family="Liberation Serif" font-size="8.3" fill="#333" stroke="none">ρ</tspan> <tspan fill="#555" stroke="none">=</tspan> 0.023(0.011, 0.034)</text>
</svg></body></html>
